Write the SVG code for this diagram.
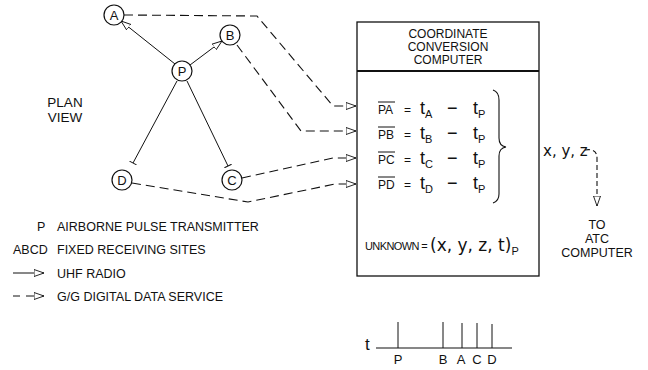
<svg xmlns="http://www.w3.org/2000/svg" width="648" height="370" viewBox="0 0 648 370">
<style>
text{font-family:"Liberation Sans",Arial,sans-serif;fill:#111}
tspan{fill:#111}
.s{font-size:12.5px}
.h{font-size:12px;text-anchor:middle}
.n{font-size:13px;text-anchor:middle}
.eq{font-size:12px}
.big{font-size:18px}
.sub{font-size:11px}
.hand{font-family:"DejaVu Sans","Liberation Sans",sans-serif;font-size:17px}
.ln{fill:none;stroke:#111;stroke-width:1}
.dash{fill:none;stroke:#111;stroke-width:1.1;stroke-dasharray:9 5}
.nd{fill:#fff;stroke:#111;stroke-width:1.2}
</style>
<defs>
<marker id="oa" viewBox="0 0 10 8" refX="10" refY="4" markerWidth="10" markerHeight="8" markerUnits="userSpaceOnUse" orient="auto">
<path d="M0,0.5 L10,4 L0,7.5 Z" fill="#fff" stroke="#111" stroke-width="0.9"/>
</marker>
<marker id="tk" viewBox="0 0 4 8" refX="2" refY="4" markerWidth="4" markerHeight="8" markerUnits="userSpaceOnUse" orient="auto">
<path d="M2,0 L2,8" stroke="#111" stroke-width="1"/>
</marker>
</defs>

<g id="connectors">
<line class="ln" x1="175" y1="64" x2="121" y2="21" marker-end="url(#oa)"/>
<line class="ln" x1="190" y1="65" x2="222" y2="41" marker-end="url(#oa)"/>
<line class="ln" x1="177" y1="81" x2="133" y2="163" marker-end="url(#tk)"/>
<line class="ln" x1="187" y1="81" x2="228" y2="166" marker-end="url(#tk)"/>
<path class="dash" d="M124,15 L257,16 L333,106 L356,106" marker-end="url(#oa)"/>
<path class="dash" d="M237,45 L301,131 L356,131" marker-end="url(#oa)"/>
<path class="dash" d="M242,178 L333,158 L356,158" marker-end="url(#oa)"/>
<path class="dash" d="M132,183 L248,202 L335,184 L356,184" marker-end="url(#oa)"/>
<path class="dash" style="stroke-dasharray:5 3" d="M585,150 Q597,148 597,158 L597,206" marker-end="url(#oa)"/>
</g>

<g id="node-A"><circle class="nd" cx="114" cy="15" r="10"/><text class="n" x="114" y="20">A</text></g>
<g id="node-B"><circle class="nd" cx="230" cy="35" r="10"/><text class="n" x="230" y="40">B</text></g>
<g id="node-P"><circle class="nd" cx="182" cy="71" r="10"/><text class="n" x="182" y="76">P</text></g>
<g id="node-D"><circle class="nd" cx="122" cy="180" r="10"/><text class="n" x="122" y="185">D</text></g>
<g id="node-C"><circle class="nd" cx="232" cy="180" r="10"/><text class="n" x="232" y="185">C</text></g>

<g id="plan-view">
<text class="n" x="65" y="107" style="font-size:13.5px">PLAN</text>
<text class="n" x="65" y="122" style="font-size:13.5px">VIEW</text>
</g>

<g id="computer">
<rect x="357" y="22" width="182" height="254" fill="none" stroke="#111" stroke-width="1.3"/>
<line x1="357" y1="71" x2="539" y2="71" stroke="#111" stroke-width="2.2"/>
<text class="h" x="448" y="38">COORDINATE</text>
<text class="h" x="448" y="51">CONVERSION</text>
<text class="h" x="448" y="64">COMPUTER</text>

<g id="eq">
<text class="eq" x="378" y="114">PA</text><line x1="378" y1="102" x2="395" y2="102" stroke="#111"/>
<text class="eq" x="404" y="114">=</text>
<text class="big" x="420" y="114">t<tspan class="sub" dy="4">A</tspan></text>
<text class="big" x="447" y="114">−</text>
<text class="big" x="473" y="114">t<tspan class="sub" dy="4">P</tspan></text>

<text class="eq" x="378" y="139">PB</text><line x1="378" y1="127" x2="395" y2="127" stroke="#111"/>
<text class="eq" x="404" y="139">=</text>
<text class="big" x="420" y="139">t<tspan class="sub" dy="4">B</tspan></text>
<text class="big" x="447" y="139">−</text>
<text class="big" x="473" y="139">t<tspan class="sub" dy="4">P</tspan></text>

<text class="eq" x="378" y="164">PC</text><line x1="378" y1="152" x2="395" y2="152" stroke="#111"/>
<text class="eq" x="404" y="164">=</text>
<text class="big" x="420" y="164">t<tspan class="sub" dy="4">C</tspan></text>
<text class="big" x="447" y="164">−</text>
<text class="big" x="473" y="164">t<tspan class="sub" dy="4">P</tspan></text>

<text class="eq" x="378" y="189">PD</text><line x1="378" y1="177" x2="395" y2="177" stroke="#111"/>
<text class="eq" x="404" y="189">=</text>
<text class="big" x="420" y="189">t<tspan class="sub" dy="4">D</tspan></text>
<text class="big" x="447" y="189">−</text>
<text class="big" x="473" y="189">t<tspan class="sub" dy="4">P</tspan></text>
</g>
<path d="M493,90 Q499,92 499,100 L499,138 Q499,146 506,147 Q499,148 499,156 L499,194 Q499,201 493,203" fill="none" stroke="#111" stroke-width="1.1"/>
<text x="365" y="250" style="font-size:11px;letter-spacing:-0.6px">UNKNOWN =</text>
<text class="hand" x="430" y="251">(x, y, z, t)<tspan class="sub" style="font-family:'Liberation Sans',sans-serif" dy="4">P</tspan></text>
</g>

<g id="output">
<text class="hand" x="543" y="156" style="font-size:15px">x, y, z</text>
<text class="n" x="597" y="229" style="font-size:12.5px">TO</text>
<text class="n" x="597" y="243" style="font-size:12.5px">ATC</text>
<text class="n" x="597" y="257" style="font-size:12.5px">COMPUTER</text>
</g>

<g id="legend">
<text class="s" x="37" y="231">P</text><text class="s" x="57" y="231">AIRBORNE PULSE TRANSMITTER</text>
<text class="s" x="13" y="254">ABCD</text><text class="s" x="57" y="254">FIXED RECEIVING SITES</text>
<line class="ln" x1="13" y1="273" x2="44" y2="273" marker-end="url(#oa)"/>
<text class="s" x="57" y="278">UHF RADIO</text>
<path class="ln" d="M13,296 L20,296 M26,296 L44,296" marker-end="url(#oa)"/>
<text class="s" x="57" y="301">G/G DIGITAL DATA SERVICE</text>
</g>

<g id="timeline">
<text x="365" y="350" style="font-size:17px">t</text>
<line x1="376" y1="348" x2="512" y2="348" stroke="#111" stroke-width="1.1"/>
<line x1="398" y1="322" x2="398" y2="348" stroke="#111"/>
<line x1="443" y1="322" x2="443" y2="348" stroke="#111"/>
<line x1="462" y1="323" x2="462" y2="348" stroke="#111"/>
<line x1="477" y1="323" x2="477" y2="348" stroke="#111"/>
<line x1="492" y1="324" x2="492" y2="348" stroke="#111"/>
<text class="n" x="398" y="364">P</text>
<text class="n" x="443" y="364">B</text>
<text class="n" x="461" y="364">A</text>
<text class="n" x="477" y="364">C</text>
<text class="n" x="492" y="364">D</text>
</g>
</svg>
